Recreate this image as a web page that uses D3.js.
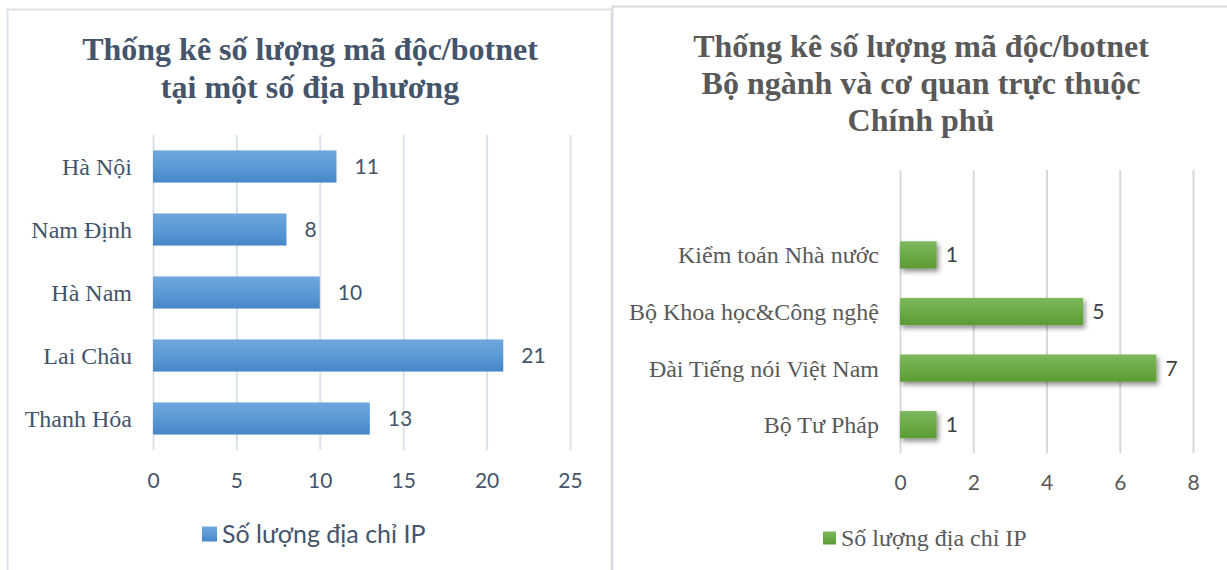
<!DOCTYPE html>
<html>
<head>
<meta charset="utf-8">
<script src="https://cdn.jsdelivr.net/npm/d3@7"></script>
<style>
  body { margin: 0; background: #fff; }
  svg { display: block; }
</style>
</head>
<body>
<div id="chart"></div>
<script>
// data
var localCats = ["Hà Nội", "Nam Định", "Hà Nam", "Lai Châu", "Thanh Hóa"];
var localVals = [11, 8, 10, 21, 13];
var localTicks = [0, 5, 10, 15, 20, 25];
var localTitle = ["Thống kê số lượng mã độc/botnet", "tại một số địa phương"];

var govCats = ["Kiểm toán Nhà nước", "Bộ Khoa học&Công nghệ", "Đài Tiếng nói Việt Nam", "Bộ Tư Pháp"];
var govVals = [1, 5, 7, 1];
var govTicks = [0, 2, 4, 6, 8];
var govTitle = ["Thống kê số lượng mã độc/botnet", "Bộ ngành và cơ quan trực thuộc", "Chính phủ"];

var seriesName = "Số lượng địa chỉ IP";

var width = 1227, height = 570;
var serif = "'Liberation Serif', 'Times New Roman', serif";
var sans = "Lato, 'Open Sans', sans-serif";

var svg = d3.select("#chart").append("svg")
    .attr("width", width)
    .attr("height", height);

var defs = svg.append("defs");
var blue = defs.append("linearGradient").attr("id", "gBlue")
    .attr("x1", 0).attr("y1", 0).attr("x2", 0).attr("y2", 1);
blue.append("stop").attr("offset", "0%").attr("stop-color", "#70a7dd");
blue.append("stop").attr("offset", "50%").attr("stop-color", "#5a9ad6");
blue.append("stop").attr("offset", "100%").attr("stop-color", "#4787c8");

var green = defs.append("linearGradient").attr("id", "gGreen")
    .attr("x1", 0).attr("y1", 0).attr("x2", 0).attr("y2", 1);
green.append("stop").attr("offset", "0%").attr("stop-color", "#7db85e");
green.append("stop").attr("offset", "50%").attr("stop-color", "#6aab45");
green.append("stop").attr("offset", "100%").attr("stop-color", "#5c9b35");

var shadow = defs.append("filter").attr("id", "shadow")
    .attr("x", "-10%").attr("y", "-30%").attr("width", "130%").attr("height", "180%");
shadow.append("feDropShadow")
    .attr("dx", 2).attr("dy", 3).attr("stdDeviation", 2.5)
    .attr("flood-color", "#000").attr("flood-opacity", 0.45);

svg.append("rect").attr("width", width).attr("height", height).attr("fill", "#fff");

// panel frames
svg.append("rect")
    .attr("x", 7.5).attr("y", 9.5).attr("width", 604).attr("height", 600)
    .attr("fill", "none").attr("stroke", "#dde3ea").attr("stroke-width", 2);
svg.append("rect")
    .attr("x", 612.5).attr("y", 6.5).attr("width", 640).attr("height", 600)
    .attr("fill", "#fff").attr("stroke", "#dadada").attr("stroke-width", 2);

function drawChart(opt) {
    var g = svg.append("g");

    // title
    g.append("text")
        .attr("x", opt.titleX)
        .attr("text-anchor", "middle")
        .style("font-family", serif)
        .style("font-weight", "bold")
        .style("font-size", "32px")
        .style("fill", opt.titleColor)
        .selectAll("tspan")
        .data(opt.title)
        .enter()
        .append("tspan")
        .attr("x", opt.titleX)
        .attr("y", (d, i) => opt.titleY + i * opt.titleStep)
        .text((d) => d);

    var x = d3.scaleLinear().domain(opt.xDomain).range(opt.xRange);
    var y = d3.scaleBand().domain(opt.yDomain).range(opt.yRange)
        .paddingInner(opt.pad).paddingOuter(opt.pad / 2);
    var plotH = opt.yRange[1] - opt.yRange[0];

    // gridlines + tick labels
    var xAxis = d3.axisBottom(x)
        .tickValues(opt.ticks)
        .tickSize(-plotH)
        .tickPadding(opt.tickPad)
        .tickFormat(d3.format("d"));
    var ax = g.append("g")
        .attr("transform", "translate(0," + opt.yRange[1] + ")")
        .call(xAxis);
    ax.select(".domain").remove();
    ax.selectAll("line").attr("stroke", opt.gridColor).attr("stroke-width", 2);
    ax.selectAll("text")
        .style("font-family", sans)
        .style("font-size", "21px")
        .style("fill", opt.textColor);

    // category labels
    g.selectAll(".cat")
        .data(opt.cats)
        .enter()
        .append("text")
        .attr("x", opt.catX)
        .attr("y", (d) => y(d) + y.bandwidth() / 2)
        .attr("dy", "0.35em")
        .attr("text-anchor", "end")
        .style("font-family", serif)
        .style("font-size", opt.catSize)
        .style("fill", opt.textColor)
        .text((d) => d);

    // bars
    g.selectAll(".bar")
        .data(opt.vals)
        .enter()
        .append("rect")
        .attr("x", x(0))
        .attr("y", (d, i) => y(opt.cats[i]))
        .attr("width", (d) => x(d) - x(0))
        .attr("height", y.bandwidth())
        .attr("fill", opt.fill)
        .attr("filter", opt.filter);

    // value labels
    g.selectAll(".val")
        .data(opt.vals)
        .enter()
        .append("text")
        .attr("x", (d) => x(d) + opt.valGap)
        .attr("y", (d, i) => y(opt.cats[i]) + y.bandwidth() / 2)
        .attr("dy", "0.36em")
        .style("font-family", sans)
        .style("font-size", "21px")
        .style("fill", opt.valColor)
        .text((d) => d);

    // legend
    g.append("rect")
        .attr("x", opt.legX).attr("y", opt.legY - opt.legBox / 2)
        .attr("width", opt.legBox).attr("height", opt.legBox)
        .attr("fill", opt.fill);
    g.append("text")
        .attr("x", opt.legX + opt.legBox + 5)
        .attr("y", opt.legY)
        .attr("dy", "0.35em")
        .style("font-family", opt.legFont)
        .style("font-size", opt.legSize)
        .style("fill", opt.textColor)
        .text(seriesName);
}

drawChart({
    title: localTitle, titleX: 310, titleY: 60, titleStep: 37.5, titleColor: "#44546a",
    xDomain: [0, 25], xRange: [153, 570], ticks: localTicks, tickPad: 23,
    yDomain: localCats, yRange: [135, 450], pad: 0.49,
    cats: localCats, vals: localVals, catX: 132, catSize: "24px",
    gridColor: "#dde2e9", textColor: "#44546a", valColor: "#44546a",
    fill: "url(#gBlue)", filter: null, valGap: 18,
    legX: 202, legY: 534, legBox: 15, legFont: sans, legSize: "25px"
});

drawChart({
    title: govTitle, titleX: 921, titleY: 57, titleStep: 37, titleColor: "#595959",
    xDomain: [0, 8], xRange: [900, 1193], ticks: govTicks, tickPad: 22,
    // the top band is left empty, as in the original
    yDomain: [""].concat(govCats), yRange: [170, 453], pad: 0.52,
    cats: govCats, vals: govVals, catX: 879, catSize: "24px",
    gridColor: "#d9d9d9", textColor: "#595959", valColor: "#404040",
    fill: "url(#gGreen)", filter: "url(#shadow)", valGap: 9,
    legX: 823, legY: 538, legBox: 13, legFont: serif, legSize: "24px"
});
</script>
</body>
</html>
